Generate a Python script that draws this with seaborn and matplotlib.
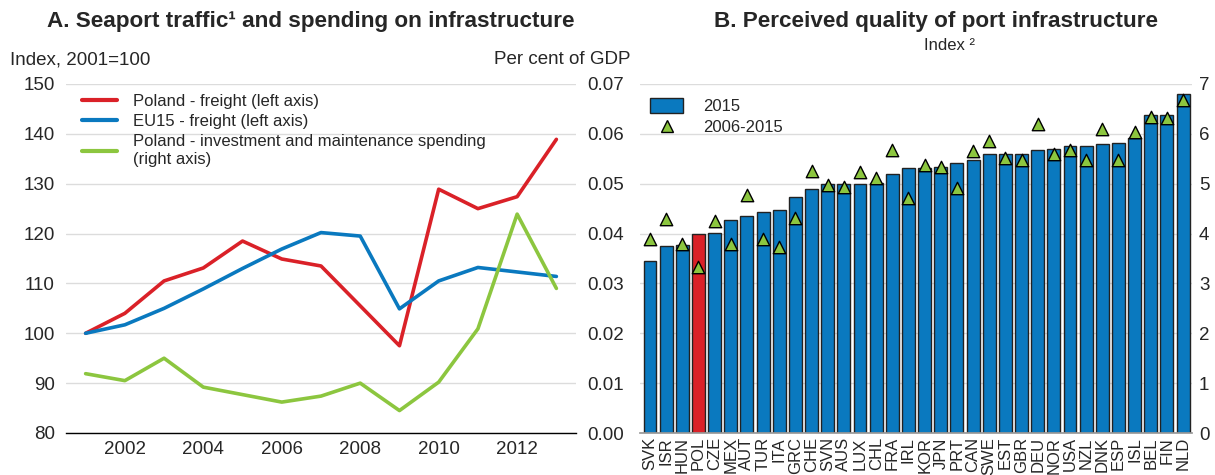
import numpy as np
import pandas as pd
import matplotlib.pyplot as plt
import seaborn as sns
from matplotlib.lines import Line2D
from matplotlib.patches import Patch

# ---------------------------------------------------------------
# data
# ---------------------------------------------------------------

years = list(range(2001, 2014))
poland_freight = [100.0, 104.0, 110.5, 113.1, 118.5, 114.9, 113.5, 105.5, 97.5, 128.9, 125.0, 127.4, 138.9]
eu15_freight = [100.0, 101.7, 105.0, 108.9, 113.0, 116.9, 120.2, 119.5, 104.9, 110.5, 113.2, 112.3, 111.4]
poland_spending = [0.0119, 0.0105, 0.0150, 0.0092, 0.0077, 0.0062, 0.0074, 0.0100, 0.0045, 0.0102, 0.0209, 0.0439, 0.0290]

countries = ['SVK', 'ISR', 'HUN', 'POL', 'CZE', 'MEX', 'AUT', 'TUR', 'ITA', 'GRC', 'CHE', 'SVN',
             'AUS', 'LUX', 'CHL', 'FRA', 'IRL', 'KOR', 'JPN', 'PRT', 'CAN', 'SWE', 'EST', 'GBR',
             'DEU', 'NOR', 'USA', 'NZL', 'DNK', 'ESP', 'ISL', 'BEL', 'FIN', 'NLD']
score_2015 = [3.45, 3.76, 3.77, 4.00, 4.02, 4.27, 4.35, 4.44, 4.47, 4.73, 4.89, 5.00,
              5.00, 5.00, 5.02, 5.19, 5.31, 5.31, 5.34, 5.41, 5.47, 5.59, 5.60, 5.60,
              5.67, 5.69, 5.75, 5.76, 5.80, 5.82, 5.92, 6.37, 6.37, 6.80]
score_2006_2015 = [3.89, 4.30, 3.80, 3.33, 4.25, 3.80, 4.77, 3.90, 3.73, 4.32, 5.25, 4.98,
                   4.94, 5.23, 5.11, 5.67, 4.72, 5.37, 5.33, 4.91, 5.66, 5.85, 5.51, 5.48,
                   6.19, 5.59, 5.67, 5.48, 6.09, 5.48, 6.03, 6.33, 6.31, 6.67]

RED = '#DA2128'
BLUE = '#0A79BF'
GREEN = '#8CC63F'
GRID = '#DCDCDC'
FS = 13.5

sns.set_theme(style="white")
plt.rcParams['font.family'] = ['Liberation Sans', 'DejaVu Sans']

fig = plt.figure(figsize=(12.15, 4.75), dpi=100)

# ---------------------------------------------------------------
# Panel A: lines
# ---------------------------------------------------------------
ax1 = fig.add_axes([66 / 1215, 42 / 475, 510 / 1215, 349 / 475])
ax1b = ax1.twinx()

df_a = pd.DataFrame({'year': years, 'pol': poland_freight, 'eu': eu15_freight, 'spend': poland_spending})

ax1.set_ylim(80, 150)
ax1.set_yticks(np.arange(80, 151, 10))
ax1.yaxis.grid(True, color=GRID, linewidth=1)
ax1.set_axisbelow(True)
sns.lineplot(data=df_a, x='year', y='pol', ax=ax1, color=RED, linewidth=2.6)
sns.lineplot(data=df_a, x='year', y='eu', ax=ax1, color=BLUE, linewidth=2.6)
sns.lineplot(data=df_a, x='year', y='spend', ax=ax1b, color=GREEN, linewidth=2.6)

ax1.set_xlim(2000.5, 2013.5)
ax1.set_xticks(np.arange(2002, 2013, 2))
ax1.set_xticks(np.arange(2000.5, 2014, 1), minor=True)
ax1.tick_params(axis='x', which='major', length=0, labelsize=FS, pad=6)
ax1.tick_params(axis='x', which='minor', length=5, direction='in', width=1, color='black')
ax1.tick_params(axis='y', length=0, labelsize=FS, pad=8)
ax1b.set_ylim(0, 0.07)
ax1b.set_yticks(np.arange(0, 0.071, 0.01))
ax1b.set_yticklabels([f'{v:.2f}' for v in np.arange(0, 0.071, 0.01)])
ax1b.tick_params(axis='y', length=0, labelsize=FS, pad=8)
for a in (ax1, ax1b):
    a.set_xlabel('')
    a.set_ylabel('')
    for s in ('top', 'left', 'right'):
        a.spines[s].set_visible(False)
ax1b.spines['bottom'].set_visible(False)
ax1.spines['bottom'].set_color('black')
ax1.spines['bottom'].set_linewidth(1)

handles_a = [
    Line2D([], [], color=RED, linewidth=3),
    Line2D([], [], color=BLUE, linewidth=3),
    Line2D([], [], color=GREEN, linewidth=3),
]
labels_a = ['Poland - freight (left axis)', 'EU15 - freight (left axis)',
            'Poland - investment and maintenance spending\n(right axis)']
ax1b.legend(handles_a, labels_a, loc='upper left', bbox_to_anchor=(0.031, 0.972),
            frameon=False, fontsize=12, borderpad=0, borderaxespad=0,
            handlelength=2.1, handletextpad=1.0, labelspacing=0.32)

fig.text(311 / 1215, 1 - 22 / 475, 'A. Seaport traffic¹ and spending on infrastructure',
         ha='center', va='center', fontsize=16.2, fontweight='bold')
fig.text(10 / 1215, 1 - 60 / 475, 'Index, 2001=100', ha='left', va='center', fontsize=FS)
fig.text(631 / 1215, 1 - 60 / 475, 'Per cent of GDP', ha='right', va='center', fontsize=FS)

# ---------------------------------------------------------------
# Panel B: bars + triangles
# ---------------------------------------------------------------
ax2 = fig.add_axes([640 / 1215, 42 / 475, 552 / 1215, 349 / 475])
df_b = pd.DataFrame({'country': countries, 'v2015': score_2015, 'v0615': score_2006_2015})
df_b['pos'] = np.arange(len(df_b))
palette = {c: (RED if c == 'POL' else BLUE) for c in countries}

ax2.yaxis.grid(True, color=GRID, linewidth=1)
ax2.set_axisbelow(True)
sns.barplot(data=df_b, x='country', y='v2015', hue='country', palette=palette, legend=False,
            ax=ax2, width=0.8, edgecolor='#222222', linewidth=1, saturation=1)
sns.scatterplot(data=df_b, x='pos', y='v0615', ax=ax2, marker='^', s=80, color=GREEN,
                edgecolor='black', linewidth=1, zorder=5, legend=False)

ax2.set_xlim(-0.62, len(countries) - 0.45)
ax2.set_ylim(0, 7)
ax2.set_yticks(range(0, 8))
ax2.yaxis.tick_right()
ax2.tick_params(axis='y', length=0, labelsize=FS, pad=5)
ax2.set_xticks(df_b['pos'])
ax2.set_xticklabels(countries, rotation=90, fontsize=12)
ax2.tick_params(axis='x', length=0, pad=3)
ax2.set_xlabel('')
ax2.set_ylabel('')
for s in ('top', 'left', 'right'):
    ax2.spines[s].set_visible(False)
ax2.spines['bottom'].set_color('#999999')

handles_b = [
    Patch(facecolor=BLUE, edgecolor='#222222', linewidth=1),
    Line2D([], [], marker='^', linestyle='none', markersize=8.5,
           markerfacecolor=GREEN, markeredgecolor='black', markeredgewidth=1),
]
ax2.legend(handles_b, ['2015', '2006-2015'], loc='upper left', bbox_to_anchor=(0.018, 0.96),
           frameon=False, fontsize=12, borderpad=0, borderaxespad=0,
           handlelength=2.0, handleheight=1.0, handletextpad=1.2, labelspacing=0.3)

fig.text(936 / 1215, 1 - 22 / 475, 'B. Perceived quality of port infrastructure',
         ha='center', va='center', fontsize=16.2, fontweight='bold')
fig.text(950 / 1215, 1 - 45 / 475, 'Index ²', ha='center', va='center', fontsize=12)

fig.savefig('out.png', dpi=100)
